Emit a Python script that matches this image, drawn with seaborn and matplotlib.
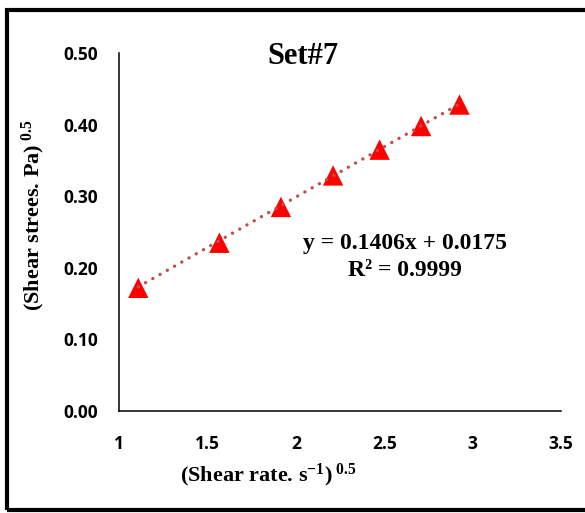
import numpy as np
import pandas as pd
import matplotlib
matplotlib.use("Agg")
import matplotlib.pyplot as plt
import seaborn as sns
from matplotlib.patches import Rectangle

# Square-root shear rate vs square-root shear stress
shear_rate_sqrt = [1.109, 1.568, 1.916, 2.211, 2.474, 2.709, 2.926]
shear_stress_sqrt = [0.172, 0.235, 0.285, 0.329, 0.365, 0.398, 0.428]

# Linear trendline parameters
slope = 0.1406
intercept = 0.0175
r_squared = 0.9999

x_ticks = [1, 1.5, 2, 2.5, 3, 3.5]
x_tick_labels = ["1", "1.5", "2", "2.5", "3", "3.5"]
y_ticks = [0.0, 0.1, 0.2, 0.3, 0.4, 0.5]
y_tick_labels = ["0.00", "0.10", "0.20", "0.30", "0.40", "0.50"]
chart_title = "Set#7"

sns.set_style("white")
plt.rcParams["font.family"] = ["Liberation Serif", "DejaVu Serif"]
plt.rcParams["font.weight"] = "bold"
plt.rcParams["text.color"] = "black"
plt.rcParams["axes.labelcolor"] = "black"
plt.rcParams["mathtext.fontset"] = "custom"
plt.rcParams["mathtext.rm"] = "Liberation Serif:bold"
plt.rcParams["mathtext.it"] = "Liberation Serif:bold"
plt.rcParams["mathtext.bf"] = "Liberation Serif:bold"

W, H = 585, 513
fig = plt.figure(figsize=(W / 100, H / 100), dpi=100)
fig.patch.set_facecolor("white")

ax_left, ax_right, ax_top, ax_bottom = 119, 561, 53, 411
ax = fig.add_axes([ax_left / W, 1 - ax_bottom / H,
                   (ax_right - ax_left) / W, (ax_bottom - ax_top) / H])

df = pd.DataFrame({"x": shear_rate_sqrt, "y": shear_stress_sqrt})

fit_x = np.array([min(shear_rate_sqrt), max(shear_rate_sqrt)])
fit_y = slope * fit_x + intercept

sns.scatterplot(data=df, x="x", y="y", marker="^", s=215, color="#FF0000",
                edgecolor="none", linewidth=0, ax=ax, zorder=3, legend=False)
ax.plot(fit_x, fit_y, color="#C0504D", lw=2.4,
        linestyle=(0, (0.05, 2.45)), dash_capstyle="round", zorder=4)

ax.set_xlim(1, 3.5)
ax.set_ylim(0, 0.5)
ax.set_xticks(x_ticks, labels=x_tick_labels, fontfamily="Open Sans",
              fontweight="bold", fontsize=12.5, color="black")
ax.set_yticks(y_ticks, labels=y_tick_labels, fontfamily="Open Sans",
              fontweight="bold", fontsize=12.5, color="black")
ax.tick_params(axis="both", direction="out", length=5, width=1.1,
               color="black", labelcolor="black")
ax.tick_params(axis="y", pad=10)
ax.tick_params(axis="x", pad=12)
ax.set_xlabel("")
ax.set_ylabel("")
for side in ["top", "right"]:
    ax.spines[side].set_visible(False)
for side in ["left", "bottom"]:
    ax.spines[side].set_color("black")
    ax.spines[side].set_linewidth(1.1)
ax.grid(False)

fig.text(303 / W, 1 - 56 / H, chart_title, ha="center", va="center",
         fontsize=22, fontweight="bold", color="black")
fig.text(405 / W, 1 - 244 / H, f"y = {slope:.4f}x + {intercept:.4f}",
         ha="center", va="center", fontsize=17, fontweight="bold",
         color="black")
fig.text(405 / W, 1 - 270 / H, f"R² = {r_squared:.4f}",
         ha="center", va="center", fontsize=17, fontweight="bold",
         color="black")

fig.text(268 / W, 1 - 475 / H, r"(Shear rate. s$^{-1}$)$^{\ 0.5}$",
         ha="center", va="center", fontsize=16, fontweight="bold",
         color="black")
fig.text(33 / W, 1 - 215 / H, r"(Shear strees. Pa)$^{\ 0.5}$",
         ha="center", va="center", rotation=90, fontsize=16,
         fontweight="bold", color="black")

# Chart frame
fig.patches.append(Rectangle((7 / W, 3 / H), 1.0, 500 / H,
                             transform=fig.transFigure, fill=False,
                             lw=3, edgecolor="black", clip_on=False))

fig.savefig("out.png", dpi=100, facecolor="white")
